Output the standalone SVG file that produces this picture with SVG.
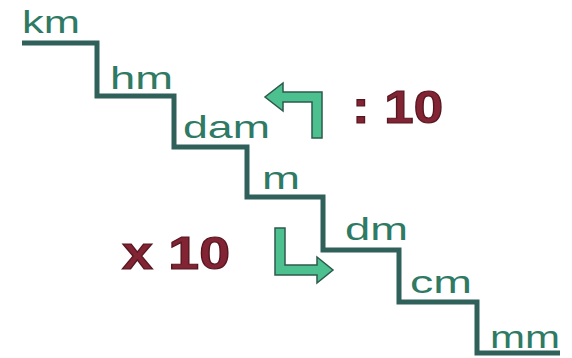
<svg xmlns="http://www.w3.org/2000/svg" width="572" height="358" viewBox="0 0 572 358">
<style>
.unit{font-family:"Liberation Sans",Arial,sans-serif;font-size:32px;fill:#2f7a64;}
.op{font-family:"Liberation Sans",Arial,sans-serif;font-weight:bold;font-size:46px;fill:#822433;stroke:#55161f;stroke-width:1.2;}
.stair{fill:none;stroke:#2f605a;stroke-width:5;stroke-linejoin:miter;}
.arrow{fill:#4cc08e;stroke:#2e5a4e;stroke-width:1.5;stroke-linejoin:miter;}
</style>
<rect width="572" height="358" fill="#ffffff"/>
<g id="connectors">
<path class="stair" d="M22,43 H97 V96 H174 V147 H247 V197 H323 V250 H399 V302 H477 V353 H560"/>
</g>
<g id="km"><text class="unit" x="22" y="33" textLength="58" lengthAdjust="spacingAndGlyphs">km</text></g>
<g id="hm"><text class="unit" x="110" y="89" textLength="63" lengthAdjust="spacingAndGlyphs">hm</text></g>
<g id="dam"><text class="unit" x="183" y="138" textLength="87" lengthAdjust="spacingAndGlyphs">dam</text></g>
<g id="m"><text class="unit" x="262" y="189" textLength="38" lengthAdjust="spacingAndGlyphs">m</text></g>
<g id="dm"><text class="unit" x="345" y="240" textLength="63" lengthAdjust="spacingAndGlyphs">dm</text></g>
<g id="cm"><text class="unit" x="410" y="293" textLength="62" lengthAdjust="spacingAndGlyphs">cm</text></g>
<g id="mm"><text class="unit" x="490" y="348" textLength="70" lengthAdjust="spacingAndGlyphs">mm</text></g>
<g id="arrow-up"><polygon class="arrow" points="322,138 322,92 283,92 283,83 265,97 283,111 283,102 312,102 312,138"/></g>
<g id="div10"><text class="op" x="352" y="123" textLength="91" lengthAdjust="spacingAndGlyphs">: 10</text></g>
<g id="arrow-down"><polygon class="arrow" points="275,228 285,228 285,265 317,265 317,257 333,270 317,283 317,275 275,275"/></g>
<g id="mul10"><text class="op" x="122" y="269" textLength="108" lengthAdjust="spacingAndGlyphs">x 10</text></g>
</svg>
